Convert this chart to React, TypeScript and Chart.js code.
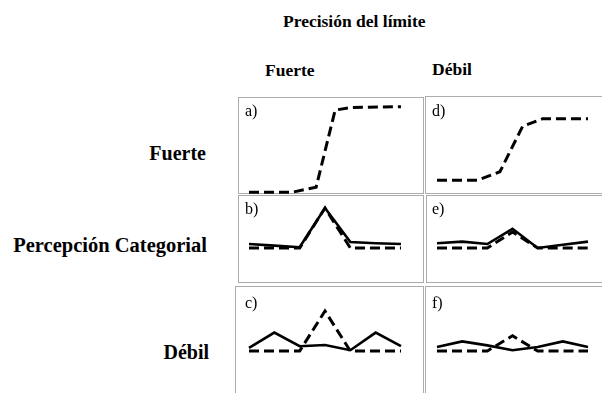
import React, { useEffect, useRef } from "react";
import { Chart, registerables } from "chart.js";

Chart.register(...registerables);

// ---- data ----
const STIMULUS_STEPS = [0, 1, 2, 3, 4, 5, 6];

// a) strong / strong : identification curve
const A_X = [0, 1.7, 2.65, 3.4, 4.0, 6];
const A_DASHED = [0, 0, 0.06, 0.96, 0.99, 1.0];
// d) weak boundary precision : identification curve
const D_X = [0, 1.6, 2.5, 3.4, 4.2, 6];
const D_DASHED = [0.14, 0.14, 0.24, 0.77, 0.86, 0.86];

// b) / e) categorical perception (discrimination)
const B_SOLID = [0.55, 0.53, 0.51, 1.0, 0.575, 0.56, 0.55];
const B_DASHED = [0.5, 0.5, 0.5, 1.0, 0.5, 0.5, 0.5];
const E_SOLID = [0.56, 0.58, 0.55, 0.74, 0.5, 0.54, 0.58];
const E_DASHED = [0.5, 0.5, 0.5, 0.7, 0.5, 0.5, 0.5];

// c) / f) weak
const C_SOLID = [0.54, 0.73, 0.56, 0.575, 0.51, 0.73, 0.56];
const C_DASHED = [0.5, 0.5, 0.5, 1.0, 0.5, 0.5, 0.5];
const F_SOLID = [0.55, 0.62, 0.57, 0.51, 0.55, 0.62, 0.55];
const F_DASHED = [0.5, 0.5, 0.5, 0.69, 0.5, 0.5, 0.5];

const TITLE = "Precisión del límite";
const COL_LABELS = ["Fuerte", "Débil"];
const ROW_LABELS = ["Fuerte", "Percepción Categorial", "Débil"];
const PANEL_LETTERS = ["a)", "b)", "c)", "d)", "e)", "f)"];

// ---- layout ----
const FONT = "'Liberation Serif', 'Times New Roman', serif";

type Series = { x: number[]; y: number[]; dashed: boolean };
type PanelDef = {
  letter: string;
  box: [number, number, number, number];
  area: [number, number, number, number];
  ymin: number;
  ymax: number;
  letterPos: [number, number];
  series: Series[];
};

const COL1_X: [number, number] = [249, 401];
const COL2_X: [number, number] = [437, 588];
const ROW1_Y: [number, number] = [106.7, 192.3];
const ROW2_Y: [number, number] = [208, 248];
const ROW3_Y: [number, number] = [311, 351];

const PANELS: PanelDef[] = [
  {
    letter: PANEL_LETTERS[0],
    box: [238, 97, 424, 194],
    area: [COL1_X[0], ROW1_Y[0], COL1_X[1], ROW1_Y[1]],
    ymin: 0,
    ymax: 1,
    letterPos: [245, 101],
    series: [{ x: A_X, y: A_DASHED, dashed: true }],
  },
  {
    letter: PANEL_LETTERS[1],
    box: [238, 195, 424, 283],
    area: [COL1_X[0], ROW2_Y[0], COL1_X[1], ROW2_Y[1]],
    ymin: 0.5,
    ymax: 1,
    letterPos: [245, 199],
    series: [
      { x: STIMULUS_STEPS, y: B_DASHED, dashed: true },
      { x: STIMULUS_STEPS, y: B_SOLID, dashed: false },
    ],
  },
  {
    letter: PANEL_LETTERS[2],
    box: [235, 286, 424, 400],
    area: [COL1_X[0], ROW3_Y[0], COL1_X[1], ROW3_Y[1]],
    ymin: 0.5,
    ymax: 1,
    letterPos: [245, 293],
    series: [
      { x: STIMULUS_STEPS, y: C_DASHED, dashed: true },
      { x: STIMULUS_STEPS, y: C_SOLID, dashed: false },
    ],
  },
  {
    letter: PANEL_LETTERS[3],
    box: [425, 96, 610, 194],
    area: [COL2_X[0], ROW1_Y[0], COL2_X[1], ROW1_Y[1]],
    ymin: 0,
    ymax: 1,
    letterPos: [432, 101],
    series: [{ x: D_X, y: D_DASHED, dashed: true }],
  },
  {
    letter: PANEL_LETTERS[4],
    box: [426, 195, 610, 283],
    area: [COL2_X[0], ROW2_Y[0], COL2_X[1], ROW2_Y[1]],
    ymin: 0.5,
    ymax: 1,
    letterPos: [432, 199],
    series: [
      { x: STIMULUS_STEPS, y: E_DASHED, dashed: true },
      { x: STIMULUS_STEPS, y: E_SOLID, dashed: false },
    ],
  },
  {
    letter: PANEL_LETTERS[5],
    box: [425, 286, 610, 400],
    area: [COL2_X[0], ROW3_Y[0], COL2_X[1], ROW3_Y[1]],
    ymin: 0.5,
    ymax: 1,
    letterPos: [432, 293],
    series: [
      { x: STIMULUS_STEPS, y: F_DASHED, dashed: true },
      { x: STIMULUS_STEPS, y: F_SOLID, dashed: false },
    ],
  },
];

function PanelChart({ p }: { p: PanelDef }) {
  const ref = useRef<HTMLCanvasElement | null>(null);
  const [bl, bt, br, bb] = p.box;
  const [al, at, ar, ab] = p.area;
  const w = br - bl;
  const h = bb - bt;

  useEffect(() => {
    if (!ref.current) return;
    const chart = new Chart(ref.current, {
      type: "line",
      data: {
        datasets: p.series.map((s) => ({
          data: s.x.map((x, i) => ({ x, y: s.y[i] })),
          borderColor: "#000",
          borderWidth: s.dashed ? 3 : 2.6,
          borderDash: s.dashed ? [10, 5] : [],
          pointRadius: 0,
          tension: 0,
          fill: false,
          clip: false as any,
        })),
      },
      options: {
        animation: false,
        responsive: false,
        maintainAspectRatio: false,
        events: [],
        layout: {
          padding: { left: al - bl, right: br - ar, top: at - bt, bottom: bb - ab },
        },
        plugins: { legend: { display: false }, tooltip: { enabled: false } },
        scales: {
          x: { type: "linear", display: false, min: 0, max: 6 },
          y: { type: "linear", display: false, min: p.ymin, max: p.ymax },
        },
      },
    });
    return () => chart.destroy();
  }, []);

  return (
    <>
      <div
        style={{
          position: "absolute",
          left: bl,
          top: bt,
          width: w,
          height: h,
          boxSizing: "border-box",
          border: "1px solid #ababab",
        }}
      />
      <canvas
        ref={ref}
        width={w}
        height={h}
        style={{ position: "absolute", left: bl, top: bt, width: w, height: h }}
      />
      <div
        style={{
          position: "absolute",
          left: p.letterPos[0],
          top: p.letterPos[1],
          font: `16px ${FONT}`,
          lineHeight: "20px",
          color: "#000",
        }}
      >
        {p.letter}
      </div>
    </>
  );
}

const boldText = (size: number): React.CSSProperties => ({
  position: "absolute",
  font: `bold ${size}px ${FONT}`,
  lineHeight: "22px",
  color: "#000",
  whiteSpace: "nowrap",
});

export default function App() {
  return (
    <div
      style={{
        position: "absolute",
        left: 0,
        top: 0,
        width: 602,
        height: 393,
        overflow: "hidden",
        background: "#fff",
      }}
    >
      <div style={{ ...boldText(17.5), left: 283, top: 10 }}>{TITLE}</div>
      <div style={{ ...boldText(17.5), left: 265, top: 59 }}>{COL_LABELS[0]}</div>
      <div style={{ ...boldText(17.5), left: 432, top: 58 }}>{COL_LABELS[1]}</div>
      <div style={{ ...boldText(20), right: 602 - 206, top: 142 }}>{ROW_LABELS[0]}</div>
      <div style={{ ...boldText(20.5), right: 602 - 207, top: 234 }}>{ROW_LABELS[1]}</div>
      <div style={{ ...boldText(20), right: 602 - 209, top: 341 }}>{ROW_LABELS[2]}</div>
      {PANELS.map((p) => (
        <PanelChart key={p.letter} p={p} />
      ))}
    </div>
  );
}
